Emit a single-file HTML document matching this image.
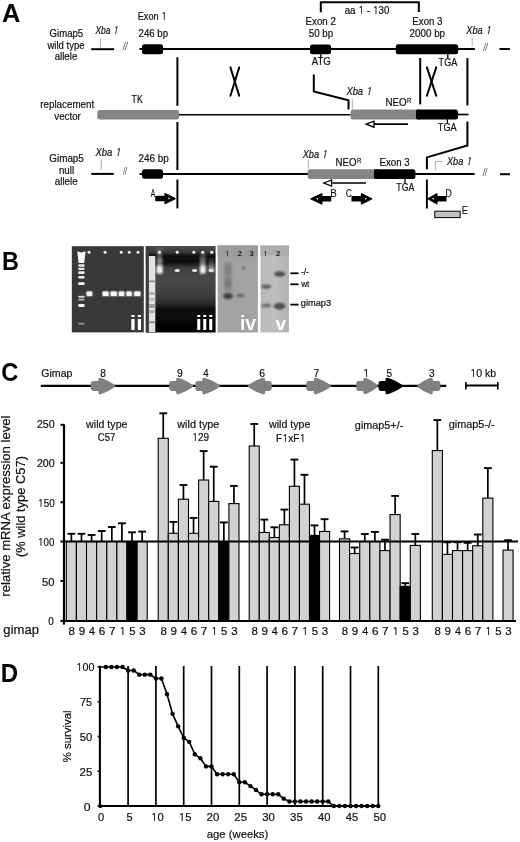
<!DOCTYPE html>
<html><head><meta charset="utf-8"><title>Gimap5 figure</title>
<style>html,body{margin:0;padding:0;background:#fff;overflow:hidden;} svg{display:block;}</style></head>
<body>
<svg width="520" height="842" viewBox="0 0 520 842" font-family="'Liberation Sans', Arial, Helvetica, sans-serif">
<defs><filter id="soft" x="0" y="0" width="100%" height="100%"><feGaussianBlur stdDeviation="0.45"/></filter></defs>
<rect x="0" y="0" width="520" height="842" fill="#fff"/>
<g filter="url(#soft)">
<rect x="0" y="0" width="520" height="842" fill="#fff"/>
<text x="2.07" y="21.60" font-size="25.36" textLength="18.32" lengthAdjust="spacingAndGlyphs" font-weight="bold" fill="#000">A</text>
<text x="49.62" y="37.10" font-size="10.60" textLength="33.58" lengthAdjust="spacingAndGlyphs" fill="#111" stroke="#111" stroke-width="0.2">Gimap5</text>
<text x="47.50" y="48.80" font-size="10.60" textLength="37.04" lengthAdjust="spacingAndGlyphs" fill="#111" stroke="#111" stroke-width="0.2">wild type</text>
<text x="54.66" y="60.40" font-size="10.60" textLength="22.67" lengthAdjust="spacingAndGlyphs" fill="#111" stroke="#111" stroke-width="0.2">allele</text>
<text x="95.43" y="33.70" font-size="10.60" textLength="22.53" lengthAdjust="spacingAndGlyphs" font-style="italic" fill="#111" stroke="#111" stroke-width="0.2">Xba <tspan font-family="NanumGothic, 'Liberation Sans', sans-serif">1</tspan></text>
<line x1="100.50" y1="38.50" x2="100.50" y2="48.20" stroke="#9a9a9a" stroke-width="0.8" stroke-linecap="butt"/>
<line x1="91.20" y1="49.20" x2="114.20" y2="49.20" stroke="#000" stroke-width="2" stroke-linecap="butt"/>
<text x="123.04" y="50.00" font-size="10.60" textLength="4.44" lengthAdjust="spacingAndGlyphs" font-style="italic" fill="#2a2a2a">//</text>
<line x1="139.50" y1="49.00" x2="474.90" y2="49.00" stroke="#000" stroke-width="2" stroke-linecap="butt"/>
<rect x="142.00" y="44.30" width="21.00" height="9.90" rx="2.5" fill="#000" stroke="none" stroke-width="0" />
<text x="137.76" y="20.40" font-size="10.60" textLength="28.94" lengthAdjust="spacingAndGlyphs" fill="#111" stroke="#111" stroke-width="0.2">Exon <tspan font-family="NanumGothic, 'Liberation Sans', sans-serif">1</tspan></text>
<text x="138.52" y="36.90" font-size="10.60" textLength="29.56" lengthAdjust="spacingAndGlyphs" fill="#111" stroke="#111" stroke-width="0.2">246 bp</text>
<rect x="310.00" y="44.60" width="21.00" height="9.60" rx="2.5" fill="#000" stroke="none" stroke-width="0" />
<text x="305.52" y="24.60" font-size="10.60" textLength="30.40" lengthAdjust="spacingAndGlyphs" fill="#111" stroke="#111" stroke-width="0.2">Exon 2</text>
<text x="308.81" y="36.90" font-size="10.60" textLength="24.40" lengthAdjust="spacingAndGlyphs" fill="#111" stroke="#111" stroke-width="0.2">50 bp</text>
<line x1="320.80" y1="54.00" x2="320.80" y2="58.50" stroke="#000" stroke-width="1.3" stroke-linecap="butt"/>
<text x="311.75" y="65.40" font-size="10.60" textLength="19.14" lengthAdjust="spacingAndGlyphs" fill="#111" stroke="#111" stroke-width="0.2">ATG</text>
<polyline points="320.80,12.30 320.80,2.20 418.80,2.20 418.80,12.00" stroke="#000" stroke-width="2" fill="none" stroke-linejoin="miter"/>
<text x="344.65" y="13.50" font-size="10.60" textLength="44.68" lengthAdjust="spacingAndGlyphs" fill="#111" stroke="#111" stroke-width="0.2">aa <tspan font-family="NanumGothic, 'Liberation Sans', sans-serif">1</tspan> - <tspan font-family="NanumGothic, 'Liberation Sans', sans-serif">1</tspan>30</text>
<rect x="395.80" y="44.20" width="62.40" height="10.00" rx="2.5" fill="#000" stroke="none" stroke-width="0" />
<text x="412.33" y="24.60" font-size="10.60" textLength="30.14" lengthAdjust="spacingAndGlyphs" fill="#111" stroke="#111" stroke-width="0.2">Exon 3</text>
<text x="409.51" y="37.00" font-size="10.60" textLength="35.58" lengthAdjust="spacingAndGlyphs" fill="#111" stroke="#111" stroke-width="0.2">2000 bp</text>
<line x1="447.80" y1="54.00" x2="447.80" y2="58.50" stroke="#000" stroke-width="1.3" stroke-linecap="butt"/>
<text x="438.62" y="65.60" font-size="10.60" textLength="18.59" lengthAdjust="spacingAndGlyphs" fill="#111" stroke="#111" stroke-width="0.2">TGA</text>
<line x1="472.20" y1="38.20" x2="472.20" y2="46.50" stroke="#9a9a9a" stroke-width="0.8" stroke-linecap="butt"/>
<text x="466.34" y="33.90" font-size="10.60" textLength="24.59" lengthAdjust="spacingAndGlyphs" font-style="italic" fill="#111" stroke="#111" stroke-width="0.2">Xba <tspan font-family="NanumGothic, 'Liberation Sans', sans-serif">1</tspan></text>
<text x="483.40" y="50.70" font-size="10.60" textLength="4.05" lengthAdjust="spacingAndGlyphs" font-style="italic" fill="#2a2a2a">//</text>
<line x1="499.50" y1="49.00" x2="509.90" y2="49.00" stroke="#000" stroke-width="2" stroke-linecap="butt"/>
<line x1="177.40" y1="57.30" x2="177.40" y2="105.80" stroke="#000" stroke-width="2" stroke-linecap="butt"/>
<line x1="177.40" y1="122.00" x2="177.40" y2="170.00" stroke="#000" stroke-width="2" stroke-linecap="butt"/>
<line x1="177.40" y1="179.50" x2="177.40" y2="208.40" stroke="#000" stroke-width="2" stroke-linecap="butt"/>
<line x1="420.20" y1="58.00" x2="420.20" y2="104.40" stroke="#000" stroke-width="2" stroke-linecap="butt"/>
<line x1="467.40" y1="58.10" x2="467.40" y2="105.40" stroke="#000" stroke-width="2" stroke-linecap="butt"/>
<polyline points="467.40,121.60 467.40,145.40 426.90,157.40 426.90,169.20" stroke="#000" stroke-width="2" fill="none" stroke-linejoin="miter"/>
<line x1="426.90" y1="179.50" x2="426.90" y2="208.50" stroke="#000" stroke-width="2" stroke-linecap="butt"/>
<line x1="230.40" y1="67.40" x2="239.20" y2="95.70" stroke="#000" stroke-width="2" stroke-linecap="round"/>
<line x1="239.20" y1="67.40" x2="230.40" y2="95.70" stroke="#000" stroke-width="2" stroke-linecap="round"/>
<line x1="426.90" y1="67.40" x2="436.25" y2="95.70" stroke="#000" stroke-width="2" stroke-linecap="round"/>
<line x1="436.25" y1="67.40" x2="426.90" y2="95.70" stroke="#000" stroke-width="2" stroke-linecap="round"/>
<text x="40.26" y="108.30" font-size="10.60" textLength="53.92" lengthAdjust="spacingAndGlyphs" fill="#111" stroke="#111" stroke-width="0.2">replacement</text>
<text x="54.25" y="119.50" font-size="10.60" textLength="26.63" lengthAdjust="spacingAndGlyphs" fill="#111" stroke="#111" stroke-width="0.2">vector</text>
<text x="131.62" y="102.70" font-size="10.60" textLength="11.19" lengthAdjust="spacingAndGlyphs" fill="#111" stroke="#111" stroke-width="0.2">TK</text>
<rect x="97.30" y="110.00" width="81.90" height="9.60" rx="2.5" fill="#858585" stroke="none" stroke-width="0" />
<line x1="179.00" y1="114.70" x2="350.50" y2="114.70" stroke="#000" stroke-width="1.6" stroke-linecap="butt"/>
<polyline points="313.80,74.60 313.80,91.50 348.50,100.30 348.50,109.50" stroke="#000" stroke-width="2" fill="none" stroke-linejoin="miter"/>
<line x1="352.30" y1="99.20" x2="352.30" y2="109.20" stroke="#9a9a9a" stroke-width="0.8" stroke-linecap="butt"/>
<text x="346.44" y="95.00" font-size="10.60" textLength="24.90" lengthAdjust="spacingAndGlyphs" font-style="italic" fill="#111" stroke="#111" stroke-width="0.2">Xba <tspan font-family="NanumGothic, 'Liberation Sans', sans-serif">1</tspan></text>
<rect x="350.50" y="109.60" width="66.50" height="9.90" rx="2.5" fill="#858585" stroke="none" stroke-width="0" />
<rect x="416.20" y="109.60" width="41.80" height="9.80" rx="2.5" fill="#000" stroke="none" stroke-width="0" />
<rect x="416.20" y="109.60" width="3.80" height="9.80" rx="0" fill="#000" stroke="none" stroke-width="0" />
<text x="385.42" y="106.40" font-size="10.60" textLength="21.25" lengthAdjust="spacingAndGlyphs" fill="#111" stroke="#111" stroke-width="0.2">NEO</text>
<text x="407.02" y="103.10" font-size="6.40" textLength="4.37" lengthAdjust="spacingAndGlyphs" fill="#111" stroke="#111" stroke-width="0.2">R</text>
<line x1="373.50" y1="124.20" x2="408.00" y2="124.20" stroke="#000" stroke-width="1.7" stroke-linecap="butt"/>
<polygon points="366.20,124.20 374.00,121.20 374.00,127.20" fill="#fff" stroke="#000" stroke-width="1.3" stroke-linejoin="miter"/>
<line x1="458.00" y1="114.50" x2="468.50" y2="114.50" stroke="#000" stroke-width="1.7" stroke-linecap="butt"/>
<line x1="447.40" y1="119.00" x2="447.40" y2="123.50" stroke="#000" stroke-width="1.3" stroke-linecap="butt"/>
<text x="437.82" y="131.20" font-size="10.60" textLength="18.89" lengthAdjust="spacingAndGlyphs" fill="#111" stroke="#111" stroke-width="0.2">TGA</text>
<text x="49.31" y="162.30" font-size="10.60" textLength="34.55" lengthAdjust="spacingAndGlyphs" fill="#111" stroke="#111" stroke-width="0.2">Gimap5</text>
<text x="58.92" y="173.90" font-size="10.60" textLength="15.18" lengthAdjust="spacingAndGlyphs" fill="#111" stroke="#111" stroke-width="0.2">null</text>
<text x="54.86" y="185.30" font-size="10.60" textLength="22.78" lengthAdjust="spacingAndGlyphs" fill="#111" stroke="#111" stroke-width="0.2">allele</text>
<text x="95.44" y="156.25" font-size="10.60" textLength="25.10" lengthAdjust="spacingAndGlyphs" font-style="italic" fill="#111" stroke="#111" stroke-width="0.2">Xba <tspan font-family="NanumGothic, 'Liberation Sans', sans-serif">1</tspan></text>
<line x1="101.25" y1="160.00" x2="101.25" y2="169.50" stroke="#9a9a9a" stroke-width="0.8" stroke-linecap="butt"/>
<line x1="91.25" y1="173.90" x2="113.75" y2="173.90" stroke="#000" stroke-width="2" stroke-linecap="butt"/>
<text x="123.15" y="175.00" font-size="10.60" textLength="3.49" lengthAdjust="spacingAndGlyphs" font-style="italic" fill="#2a2a2a">//</text>
<text x="138.56" y="162.00" font-size="10.60" textLength="30.28" lengthAdjust="spacingAndGlyphs" fill="#111" stroke="#111" stroke-width="0.2">246 bp</text>
<rect x="142.00" y="169.25" width="21.00" height="9.50" rx="2.5" fill="#000" stroke="none" stroke-width="0" />
<line x1="139.50" y1="174.00" x2="308.00" y2="174.00" stroke="#000" stroke-width="2" stroke-linecap="butt"/>
<line x1="308.20" y1="160.00" x2="308.20" y2="169.20" stroke="#9a9a9a" stroke-width="0.8" stroke-linecap="butt"/>
<text x="302.74" y="157.70" font-size="10.60" textLength="24.38" lengthAdjust="spacingAndGlyphs" font-style="italic" fill="#111" stroke="#111" stroke-width="0.2">Xba <tspan font-family="NanumGothic, 'Liberation Sans', sans-serif">1</tspan></text>
<rect x="307.70" y="169.20" width="67.30" height="9.70" rx="2.5" fill="#858585" stroke="none" stroke-width="0" />
<rect x="374.20" y="169.20" width="41.20" height="9.70" rx="2.5" fill="#000" stroke="none" stroke-width="0" />
<rect x="374.20" y="169.20" width="3.80" height="9.70" rx="0" fill="#000" stroke="none" stroke-width="0" />
<text x="335.62" y="165.90" font-size="10.60" textLength="21.03" lengthAdjust="spacingAndGlyphs" fill="#111" stroke="#111" stroke-width="0.2">NEO</text>
<text x="357.02" y="162.70" font-size="6.40" textLength="4.37" lengthAdjust="spacingAndGlyphs" fill="#111" stroke="#111" stroke-width="0.2">R</text>
<text x="379.53" y="165.80" font-size="10.60" textLength="30.14" lengthAdjust="spacingAndGlyphs" fill="#111" stroke="#111" stroke-width="0.2">Exon 3</text>
<line x1="405.00" y1="179.00" x2="405.00" y2="183.50" stroke="#000" stroke-width="1.3" stroke-linecap="butt"/>
<text x="396.33" y="191.20" font-size="10.60" textLength="17.98" lengthAdjust="spacingAndGlyphs" fill="#111" stroke="#111" stroke-width="0.2">TGA</text>
<line x1="415.00" y1="174.00" x2="474.60" y2="174.00" stroke="#000" stroke-width="2" stroke-linecap="butt"/>
<line x1="332.40" y1="183.00" x2="366.00" y2="183.00" stroke="#000" stroke-width="1.7" stroke-linecap="butt"/>
<polygon points="323.80,183.00 331.60,180.00 331.60,186.00" fill="#fff" stroke="#000" stroke-width="1.3" stroke-linejoin="miter"/>
<polyline points="435.40,170.30 435.40,161.50 443.00,161.50" stroke="#9a9a9a" stroke-width="0.8" fill="none" stroke-linejoin="miter"/>
<text x="447.04" y="164.60" font-size="10.60" textLength="24.28" lengthAdjust="spacingAndGlyphs" font-style="italic" fill="#111" stroke="#111" stroke-width="0.2">Xba <tspan font-family="NanumGothic, 'Liberation Sans', sans-serif">1</tspan></text>
<text x="482.98" y="175.80" font-size="10.60" textLength="3.81" lengthAdjust="spacingAndGlyphs" font-style="italic" fill="#2a2a2a">//</text>
<line x1="500.00" y1="174.20" x2="510.00" y2="174.20" stroke="#000" stroke-width="2" stroke-linecap="butt"/>
<polygon points="175.10,198.60 165.00,193.60 165.00,196.50 155.90,196.50 155.90,200.70 165.00,200.70 165.00,203.60" fill="#000" stroke="#000" stroke-width="1.3" stroke-linejoin="round"/>
<polygon points="170.53,198.60 168.53,197.60 168.53,199.60" fill="#fff" stroke="none" stroke-width="0" stroke-linejoin="round"/>
<text x="150.87" y="197.30" font-size="10.00" textLength="4.45" lengthAdjust="spacingAndGlyphs" fill="#111" stroke="#111" stroke-width="0.15">A</text>
<polygon points="311.00,198.80 321.80,193.80 321.80,196.70 330.60,196.70 330.60,200.90 321.80,200.90 321.80,203.80" fill="#000" stroke="#000" stroke-width="1.3" stroke-linejoin="round"/>
<polygon points="316.02,198.80 318.02,197.80 318.02,199.80" fill="#fff" stroke="none" stroke-width="0" stroke-linejoin="round"/>
<text x="330.32" y="197.20" font-size="10.00" textLength="6.48" lengthAdjust="spacingAndGlyphs" fill="#111" stroke="#111" stroke-width="0.15">B</text>
<polygon points="371.60,198.80 361.50,193.80 361.50,196.70 352.10,196.70 352.10,200.90 361.50,200.90 361.50,203.80" fill="#000" stroke="#000" stroke-width="1.3" stroke-linejoin="round"/>
<polygon points="367.04,198.80 365.04,197.80 365.04,199.80" fill="#fff" stroke="none" stroke-width="0" stroke-linejoin="round"/>
<text x="345.87" y="197.10" font-size="10.00" textLength="6.19" lengthAdjust="spacingAndGlyphs" fill="#111" stroke="#111" stroke-width="0.15">C</text>
<polygon points="427.90,198.80 436.90,193.80 436.90,196.70 445.90,196.70 445.90,200.90 436.90,200.90 436.90,203.80" fill="#000" stroke="#000" stroke-width="1.3" stroke-linejoin="round"/>
<polygon points="431.75,198.80 433.75,197.80 433.75,199.80" fill="#fff" stroke="none" stroke-width="0" stroke-linejoin="round"/>
<text x="445.50" y="196.90" font-size="10.00" textLength="6.31" lengthAdjust="spacingAndGlyphs" fill="#111" stroke="#111" stroke-width="0.15">D</text>
<rect x="434.80" y="211.20" width="25.40" height="6.40" rx="0" fill="#c2c2c2" stroke="#000" stroke-width="1" />
<text x="461.65" y="214.40" font-size="10.00" textLength="6.24" lengthAdjust="spacingAndGlyphs" fill="#111" stroke="#111" stroke-width="0.15">E</text>
<text x="1.88" y="270.40" font-size="25.94" textLength="16.93" lengthAdjust="spacingAndGlyphs" font-weight="bold" fill="#000">B</text>
<defs><filter id="b1" x="-50%" y="-50%" width="200%" height="200%"><feGaussianBlur stdDeviation="0.6"/></filter><filter id="b2" x="-50%" y="-50%" width="200%" height="200%"><feGaussianBlur stdDeviation="1.2"/></filter><filter id="b3" x="-50%" y="-50%" width="200%" height="200%"><feGaussianBlur stdDeviation="2.2"/></filter><linearGradient id="g3" x1="0" y1="0" x2="0" y2="1"><stop offset="0" stop-color="#404040"/><stop offset="0.06" stop-color="#1c1c1c"/><stop offset="0.2" stop-color="#101010"/><stop offset="0.32" stop-color="#3c3c3c"/><stop offset="0.55" stop-color="#3a3a3a"/><stop offset="0.7" stop-color="#282828"/><stop offset="0.76" stop-color="#080808"/><stop offset="1" stop-color="#050505"/></linearGradient><linearGradient id="g4" x1="0" y1="0" x2="0" y2="1"><stop offset="0" stop-color="#979797"/><stop offset="0.12" stop-color="#9c9c9c"/><stop offset="0.2" stop-color="#a3a3a3"/><stop offset="1" stop-color="#a2a2a2"/></linearGradient><linearGradient id="g5" x1="0" y1="0" x2="1" y2="0"><stop offset="0" stop-color="#bababa"/><stop offset="0.5" stop-color="#bfbfbf"/><stop offset="1" stop-color="#b2b2b2"/></linearGradient></defs>
<rect x="71.80" y="246.20" width="72.00" height="86.20" rx="0" fill="#383838" stroke="none" stroke-width="0" />
<g filter="url(#b1)" opacity="0.3">
<rect x="86.50" y="256.00" width="5.00" height="74.00" rx="0" fill="#3c3c3c" stroke="none" stroke-width="0" />
<rect x="94.50" y="256.00" width="5.00" height="74.00" rx="0" fill="#3c3c3c" stroke="none" stroke-width="0" />
<rect x="102.90" y="256.00" width="5.00" height="74.00" rx="0" fill="#3c3c3c" stroke="none" stroke-width="0" />
<rect x="111.00" y="256.00" width="5.00" height="74.00" rx="0" fill="#3c3c3c" stroke="none" stroke-width="0" />
<rect x="118.90" y="256.00" width="5.00" height="74.00" rx="0" fill="#3c3c3c" stroke="none" stroke-width="0" />
<rect x="126.80" y="256.00" width="5.00" height="74.00" rx="0" fill="#3c3c3c" stroke="none" stroke-width="0" />
<rect x="135.00" y="256.00" width="5.00" height="74.00" rx="0" fill="#3c3c3c" stroke="none" stroke-width="0" />
</g>
<g filter="url(#b1)">
<polygon points="77.20,251.20 81.20,252.50 85.60,251.20 84.20,263.00 78.60,263.00" fill="#f8f8f8" stroke="none" stroke-width="0" stroke-linejoin="round"/>
<rect x="78.20" y="264.20" width="6.40" height="2.60" rx="1" fill="#f4f4f4" stroke="none" stroke-width="0" opacity="0.95"/>
<rect x="78.20" y="267.70" width="6.40" height="2.20" rx="1" fill="#f4f4f4" stroke="none" stroke-width="0" opacity="0.9"/>
<rect x="78.20" y="271.30" width="6.40" height="2.60" rx="1" fill="#f4f4f4" stroke="none" stroke-width="0" opacity="0.95"/>
<rect x="78.20" y="276.10" width="6.40" height="2.40" rx="1" fill="#f4f4f4" stroke="none" stroke-width="0" opacity="0.95"/>
<rect x="78.20" y="282.20" width="6.40" height="2.80" rx="1" fill="#f4f4f4" stroke="none" stroke-width="0" opacity="1"/>
<rect x="78.20" y="295.80" width="6.40" height="2.00" rx="1" fill="#f4f4f4" stroke="none" stroke-width="0" opacity="0.85"/>
<rect x="78.20" y="298.70" width="6.40" height="1.80" rx="1" fill="#f4f4f4" stroke="none" stroke-width="0" opacity="0.7"/>
<rect x="78.20" y="303.90" width="6.40" height="3.00" rx="1" fill="#f4f4f4" stroke="none" stroke-width="0" opacity="1"/>
<rect x="78.20" y="322.70" width="6.40" height="2.00" rx="1" fill="#f4f4f4" stroke="none" stroke-width="0" opacity="0.45"/>
<circle cx="89" cy="252.2" r="1.5" fill="#f4f4f4"/>
<circle cx="105.1" cy="252.2" r="1.5" fill="#f4f4f4"/>
<circle cx="121.2" cy="252.2" r="1.5" fill="#f4f4f4"/>
<circle cx="129.2" cy="252.2" r="1.5" fill="#f4f4f4"/>
<circle cx="138" cy="252.2" r="1.5" fill="#f4f4f4"/>
</g>
<g filter="url(#b1)">
<rect x="85.40" y="290.40" width="8.00" height="6.80" rx="2" fill="#ffffff" stroke="none" stroke-width="0" opacity="0.25"/>
<rect x="86.60" y="291.60" width="5.60" height="4.40" rx="1.2" fill="#fafafa" stroke="none" stroke-width="0" opacity="0.95"/>
<rect x="101.40" y="290.40" width="8.40" height="6.80" rx="2" fill="#ffffff" stroke="none" stroke-width="0" opacity="0.25"/>
<rect x="102.60" y="291.60" width="6.00" height="4.40" rx="1.2" fill="#fafafa" stroke="none" stroke-width="0" opacity="1"/>
<rect x="109.40" y="290.40" width="8.60" height="6.80" rx="2" fill="#ffffff" stroke="none" stroke-width="0" opacity="0.25"/>
<rect x="110.60" y="291.60" width="6.20" height="4.40" rx="1.2" fill="#fafafa" stroke="none" stroke-width="0" opacity="1"/>
<rect x="117.60" y="290.40" width="7.90" height="6.80" rx="2" fill="#ffffff" stroke="none" stroke-width="0" opacity="0.25"/>
<rect x="118.80" y="291.60" width="5.50" height="4.40" rx="1.2" fill="#fafafa" stroke="none" stroke-width="0" opacity="1"/>
<rect x="125.20" y="290.40" width="7.80" height="6.80" rx="2" fill="#ffffff" stroke="none" stroke-width="0" opacity="0.25"/>
<rect x="126.40" y="291.60" width="5.40" height="4.40" rx="1.2" fill="#fafafa" stroke="none" stroke-width="0" opacity="1"/>
<rect x="133.00" y="290.40" width="8.60" height="6.80" rx="2" fill="#ffffff" stroke="none" stroke-width="0" opacity="0.25"/>
<rect x="134.20" y="291.60" width="6.20" height="4.40" rx="1.2" fill="#fafafa" stroke="none" stroke-width="0" opacity="1"/>
</g>
<text x="129.78" y="330.30" font-size="19.86" textLength="12.85" lengthAdjust="spacingAndGlyphs" font-weight="bold" fill="#fff">ii</text>
<defs><linearGradient id="g3b" x1="0" y1="0" x2="0" y2="1"><stop offset="0" stop-color="#4c4c4c"/><stop offset="0.07" stop-color="#3a3a3a"/><stop offset="0.116" stop-color="#0c0c0c"/><stop offset="0.197" stop-color="#121212"/><stop offset="0.254" stop-color="#404040"/><stop offset="0.393" stop-color="#484848"/><stop offset="0.566" stop-color="#3e3e3e"/><stop offset="0.67" stop-color="#2a2a2a"/><stop offset="0.728" stop-color="#0a0a0a"/><stop offset="1" stop-color="#040404"/></linearGradient></defs>
<rect x="145.80" y="246.00" width="69.80" height="86.50" rx="0" fill="url(#g3b)" stroke="none" stroke-width="0" />
<rect x="145.80" y="246.00" width="3.20" height="86.50" rx="0" fill="#3e3e3e" stroke="none" stroke-width="0" />
<g filter="url(#b1)">
<rect x="148.90" y="256.00" width="6.40" height="76.00" rx="0" fill="#e2e2e2" stroke="none" stroke-width="0" />
<rect x="148.90" y="280.50" width="6.40" height="1.60" rx="0" fill="#8a8a8a" stroke="none" stroke-width="0" />
<rect x="148.90" y="292.00" width="6.40" height="3.00" rx="0" fill="#b4b4b4" stroke="none" stroke-width="0" />
<rect x="148.90" y="298.00" width="6.40" height="3.00" rx="0" fill="#c0c0c0" stroke="none" stroke-width="0" />
<rect x="148.90" y="304.00" width="6.40" height="4.00" rx="0" fill="#a0a0a0" stroke="none" stroke-width="0" />
<rect x="148.90" y="310.00" width="6.40" height="3.00" rx="0" fill="#b0b0b0" stroke="none" stroke-width="0" />
<rect x="148.90" y="321.50" width="6.40" height="1.60" rx="0" fill="#7a7a7a" stroke="none" stroke-width="0" />
</g>
<defs><linearGradient id="sm" x1="0" y1="0" x2="0" y2="1"><stop offset="0" stop-color="#fff" stop-opacity="0.15"/><stop offset="0.6" stop-color="#fff" stop-opacity="0.55"/><stop offset="0.85" stop-color="#fff" stop-opacity="0.9"/><stop offset="1" stop-color="#fff" stop-opacity="0.6"/></linearGradient></defs>
<g filter="url(#b2)">
<rect x="156.80" y="247.00" width="5.40" height="15.00" rx="0" fill="#5a5a5a" stroke="none" stroke-width="0" />
<rect x="156.60" y="258.00" width="6.00" height="16.00" rx="0" fill="url(#sm)" stroke="none" stroke-width="0" />
<ellipse cx="159.6" cy="269" rx="3.2" ry="3.8" fill="#f4f4f4" opacity="0.85"/>
<ellipse cx="202.9" cy="269" rx="3" ry="3.5" fill="#f0f0f0" opacity="0.7"/>
<rect x="200.00" y="253.00" width="5.60" height="21.00" rx="0" fill="url(#sm)" stroke="none" stroke-width="0" />
<rect x="208.60" y="258.00" width="5.60" height="14.00" rx="0" fill="url(#sm)" stroke="none" stroke-width="0" opacity="0.6"/>
</g>
<g filter="url(#b1)">
<circle cx="159.4" cy="252.2" r="1.5" fill="#ffffff"/>
<circle cx="177.2" cy="252.2" r="1.5" fill="#ffffff"/>
<circle cx="193.8" cy="252.2" r="1.5" fill="#ffffff"/>
<circle cx="202.7" cy="252.2" r="1.5" fill="#ffffff"/>
<circle cx="211.7" cy="252.2" r="1.5" fill="#ffffff"/>
<ellipse cx="177.2" cy="270.6" rx="2.7" ry="1.5" fill="#e4e4e4"/>
<ellipse cx="194.6" cy="270.6" rx="2.7" ry="1.5" fill="#e4e4e4"/>
<ellipse cx="211.2" cy="270.6" rx="2.7" ry="1.5" fill="#e4e4e4"/>
</g>
<text x="195.69" y="330.30" font-size="20.28" textLength="18.00" lengthAdjust="spacingAndGlyphs" font-weight="bold" fill="#fff">iii</text>
<rect x="217.70" y="245.50" width="40.20" height="87.00" rx="0" fill="url(#g4)" stroke="none" stroke-width="0" />
<g filter="url(#b1)">
<rect x="217.70" y="245.50" width="40.20" height="10.50" rx="0" fill="#9c9c9c" stroke="none" stroke-width="0" />
</g>
<g filter="url(#b2)">
<rect x="224.20" y="262.00" width="7.60" height="29.00" rx="0" fill="#848484" stroke="none" stroke-width="0" opacity="0.85"/>
<ellipse cx="228" cy="269" rx="3.5" ry="4" fill="#7a7a7a" opacity="0.6"/>
<ellipse cx="228" cy="283" rx="3.8" ry="4" fill="#707070" opacity="0.6"/>
<ellipse cx="228.1" cy="296" rx="5.0" ry="3.2" fill="#434343"/>
<ellipse cx="240.4" cy="295.5" rx="4.2" ry="1.7" fill="#656565"/>
<circle cx="243.5" cy="268" r="1.8" fill="#6a6a6a"/>
</g>
<text x="227.50" y="255.70" font-size="6.52" text-anchor="middle" font-family="NanumGothic, 'Liberation Sans', sans-serif" fill="#222" font-weight="bold">1</text>
<text x="237.42" y="255.70" font-size="6.43" textLength="4.40" lengthAdjust="spacingAndGlyphs" font-weight="bold" fill="#222">2</text>
<text x="249.61" y="255.70" font-size="6.43" textLength="4.27" lengthAdjust="spacingAndGlyphs" font-weight="bold" fill="#222">3</text>
<text x="239.94" y="330.10" font-size="19.59" textLength="16.24" lengthAdjust="spacingAndGlyphs" font-weight="bold" fill="#fff">iv</text>
<rect x="260.50" y="245.50" width="28.40" height="87.00" rx="0" fill="url(#g5)" stroke="none" stroke-width="0" />
<g filter="url(#b1)">
<rect x="260.50" y="245.50" width="28.40" height="10.00" rx="0" fill="#adadad" stroke="none" stroke-width="0" />
</g>
<g filter="url(#b2)">
<ellipse cx="279.8" cy="274" rx="5.6" ry="2.8" fill="#4e4e4e"/>
<ellipse cx="266.2" cy="286.6" rx="5" ry="2.1" fill="#5e5e5e"/>
<ellipse cx="266.2" cy="305.4" rx="4.8" ry="2.0" fill="#6e6e6e"/>
<ellipse cx="279.5" cy="306.2" rx="5.8" ry="3.4" fill="#4e4e4e"/>
</g>
<text x="265.20" y="255.70" font-size="6.52" text-anchor="middle" font-family="NanumGothic, 'Liberation Sans', sans-serif" fill="#222" font-weight="bold">1</text>
<text x="276.12" y="255.70" font-size="6.43" textLength="4.40" lengthAdjust="spacingAndGlyphs" font-weight="bold" fill="#222">2</text>
<text x="275.60" y="330.10" font-size="18.49" textLength="10.61" lengthAdjust="spacingAndGlyphs" font-weight="bold" fill="#fff">v</text>
<line x1="290.30" y1="273.30" x2="298.50" y2="273.30" stroke="#000" stroke-width="1.8" stroke-linecap="butt"/>
<line x1="290.30" y1="284.30" x2="298.50" y2="284.30" stroke="#000" stroke-width="1.8" stroke-linecap="butt"/>
<line x1="290.30" y1="304.60" x2="298.50" y2="304.60" stroke="#000" stroke-width="1.8" stroke-linecap="butt"/>
<text x="300.92" y="274.70" font-size="9.20" textLength="8.06" lengthAdjust="spacingAndGlyphs" fill="#111" stroke="#111" stroke-width="0.2">-/-</text>
<text x="301.20" y="286.50" font-size="9.20" textLength="8.18" lengthAdjust="spacingAndGlyphs" fill="#111" stroke="#111" stroke-width="0.2">wt</text>
<text x="300.83" y="306.40" font-size="9.20" textLength="30.28" lengthAdjust="spacingAndGlyphs" fill="#111" stroke="#111" stroke-width="0.2">gimap3</text>
<text x="1.25" y="381.00" font-size="25.86" textLength="17.09" lengthAdjust="spacingAndGlyphs" font-weight="bold" fill="#000">C</text>
<text x="41.27" y="376.50" font-size="11.00" textLength="31.16" lengthAdjust="spacingAndGlyphs" fill="#111" stroke="#111" stroke-width="0.2">Gimap</text>
<line x1="40.80" y1="385.80" x2="446.20" y2="385.80" stroke="#000" stroke-width="2.2" stroke-linecap="butt"/>
<path d="M93.20,381.00 L97.50,381.00 Q98.50,381.00 98.50,380.00 L98.50,379.00 Q98.50,377.00 101.33,378.00 L103.22,378.67 Q107.94,380.34 112.07,383.17 L114.39,384.76 Q116.20,386.00 114.39,387.24 L112.07,388.83 Q107.94,391.66 103.22,393.33 L101.33,394.00 Q98.50,395.00 98.50,393.00 L98.50,392.00 Q98.50,391.00 97.50,391.00 L93.20,391.00 Q90.80,391.00 90.80,388.60 L90.80,383.40 Q90.80,381.00 93.20,381.00 Z" fill="#808080"/>
<path d="M171.60,381.00 L175.20,381.00 Q176.20,381.00 176.20,380.00 L176.20,379.00 Q176.20,377.00 179.03,377.98 L181.01,378.67 Q185.83,380.34 190.06,383.17 L192.47,384.78 Q194.30,386.00 192.47,387.22 L190.06,388.83 Q185.83,391.66 181.01,393.33 L179.03,394.02 Q176.20,395.00 176.20,393.00 L176.20,392.00 Q176.20,391.00 175.20,391.00 L171.60,391.00 Q169.20,391.00 169.20,388.60 L169.20,383.40 Q169.20,381.00 171.60,381.00 Z" fill="#808080"/>
<path d="M197.70,381.00 L201.40,381.00 Q202.40,381.00 202.40,380.00 L202.40,379.00 Q202.40,377.00 205.25,377.95 L207.38,378.66 Q212.36,380.33 216.78,383.16 L219.35,384.81 Q221.20,386.00 219.35,387.19 L216.78,388.84 Q212.36,391.67 207.38,393.34 L205.25,394.05 Q202.40,395.00 202.40,393.00 L202.40,392.00 Q202.40,391.00 201.40,391.00 L197.70,391.00 Q195.30,391.00 195.30,388.60 L195.30,383.40 Q195.30,381.00 197.70,381.00 Z" fill="#808080"/>
<path d="M269.30,381.00 L266.00,381.00 Q265.00,381.00 265.00,380.00 L265.00,379.00 Q265.00,377.00 262.16,377.97 L260.14,378.67 Q255.28,380.33 250.99,383.17 L248.54,384.79 Q246.70,386.00 248.54,387.21 L250.99,388.83 Q255.28,391.67 260.14,393.33 L262.16,394.03 Q265.00,395.00 265.00,393.00 L265.00,392.00 Q265.00,391.00 266.00,391.00 L269.30,391.00 Q271.70,391.00 271.70,388.60 L271.70,383.40 Q271.70,381.00 269.30,381.00 Z" fill="#808080"/>
<path d="M308.70,381.00 L313.00,381.00 Q314.00,381.00 314.00,380.00 L314.00,379.00 Q314.00,377.00 316.83,377.99 L318.79,378.67 Q323.58,380.34 327.79,383.17 L330.17,384.77 Q332.00,386.00 330.17,387.23 L327.79,388.83 Q323.58,391.66 318.79,393.33 L316.83,394.01 Q314.00,395.00 314.00,393.00 L314.00,392.00 Q314.00,391.00 313.00,391.00 L308.70,391.00 Q306.30,391.00 306.30,388.60 L306.30,383.40 Q306.30,381.00 308.70,381.00 Z" fill="#808080"/>
<path d="M358.60,381.00 L362.50,381.00 Q363.50,381.00 363.50,380.00 L363.50,379.00 Q363.50,377.00 366.28,378.13 L367.65,378.69 Q371.81,380.38 375.30,383.19 L377.09,384.62 Q378.80,386.00 377.09,387.38 L375.30,388.81 Q371.81,391.62 367.65,393.31 L366.28,393.87 Q363.50,395.00 363.50,393.00 L363.50,392.00 Q363.50,391.00 362.50,391.00 L358.60,391.00 Q356.20,391.00 356.20,388.60 L356.20,383.40 Q356.20,381.00 358.60,381.00 Z" fill="#808080"/>
<path d="M380.90,381.00 L384.60,381.00 Q385.60,381.00 385.60,380.00 L385.60,379.00 Q385.60,377.00 388.44,377.98 L390.44,378.67 Q395.28,380.33 399.54,383.17 L401.97,384.78 Q403.80,386.00 401.97,387.22 L399.54,388.83 Q395.28,391.67 390.44,393.33 L388.44,394.02 Q385.60,395.00 385.60,393.00 L385.60,392.00 Q385.60,391.00 384.60,391.00 L380.90,391.00 Q378.50,391.00 378.50,388.60 L378.50,383.40 Q378.50,381.00 380.90,381.00 Z" fill="#000"/>
<path d="M438.00,381.00 L433.70,381.00 Q432.70,381.00 432.70,380.00 L432.70,379.00 Q432.70,377.00 429.90,378.07 L428.29,378.68 Q423.87,380.36 420.09,383.18 L418.06,384.69 Q416.30,386.00 418.06,387.31 L420.09,388.82 Q423.87,391.64 428.29,393.32 L429.90,393.93 Q432.70,395.00 432.70,393.00 L432.70,392.00 Q432.70,391.00 433.70,391.00 L438.00,391.00 Q440.40,391.00 440.40,388.60 L440.40,383.40 Q440.40,381.00 438.00,381.00 Z" fill="#808080"/>
<text x="100.24" y="376.50" font-size="11.00" textLength="5.68" lengthAdjust="spacingAndGlyphs" fill="#111" stroke="#111" stroke-width="0.2">8</text>
<text x="177.04" y="376.50" font-size="11.00" textLength="5.74" lengthAdjust="spacingAndGlyphs" fill="#111" stroke="#111" stroke-width="0.2">9</text>
<text x="203.36" y="376.50" font-size="11.00" textLength="5.34" lengthAdjust="spacingAndGlyphs" fill="#111" stroke="#111" stroke-width="0.2">4</text>
<text x="259.18" y="376.50" font-size="11.00" textLength="5.80" lengthAdjust="spacingAndGlyphs" fill="#111" stroke="#111" stroke-width="0.2">6</text>
<text x="313.57" y="376.50" font-size="11.00" textLength="5.87" lengthAdjust="spacingAndGlyphs" fill="#111" stroke="#111" stroke-width="0.2">7</text>
<text x="366.20" y="376.50" font-size="11.00" text-anchor="middle" font-family="NanumGothic, 'Liberation Sans', sans-serif" fill="#111" stroke="#111" stroke-width="0.2">1</text>
<text x="386.60" y="376.50" font-size="11.00" textLength="5.62" lengthAdjust="spacingAndGlyphs" fill="#111" stroke="#111" stroke-width="0.2">5</text>
<text x="428.89" y="376.50" font-size="11.00" textLength="5.68" lengthAdjust="spacingAndGlyphs" fill="#111" stroke="#111" stroke-width="0.2">3</text>
<line x1="465.20" y1="385.40" x2="498.50" y2="385.40" stroke="#000" stroke-width="2" stroke-linecap="butt"/>
<line x1="465.90" y1="382.00" x2="465.90" y2="389.60" stroke="#000" stroke-width="1.6" stroke-linecap="butt"/>
<line x1="497.80" y1="382.00" x2="497.80" y2="389.60" stroke="#000" stroke-width="1.6" stroke-linecap="butt"/>
<text x="469.90" y="376.70" font-size="11.00" textLength="26.25" lengthAdjust="spacingAndGlyphs" fill="#111" stroke="#111" stroke-width="0.2"><tspan font-family="NanumGothic, 'Liberation Sans', sans-serif">1</tspan>0 kb</text>
<text transform="translate(10.00,596.65) rotate(-90)" x="0" y="0" font-size="12.55" textLength="181.06" lengthAdjust="spacingAndGlyphs" fill="#111" stroke="#111" stroke-width="0.2">relative mRNA expression level</text>
<text transform="translate(24.90,557.07) rotate(-90)" x="0" y="0" font-size="12.14" textLength="101.06" lengthAdjust="spacingAndGlyphs" fill="#111" stroke="#111" stroke-width="0.2">(% wild type C57)</text>
<text x="68.54" y="635.30" font-size="10.80" textLength="6.39" lengthAdjust="spacingAndGlyphs" fill="#111" stroke="#111" stroke-width="0.2">8</text>
<rect x="66.30" y="541.50" width="10.11" height="79.30" rx="0" fill="#d2d2d2" stroke="#000" stroke-width="1.1" />
<line x1="71.36" y1="533.80" x2="71.36" y2="541.50" stroke="#000" stroke-width="1.7" stroke-linecap="butt"/>
<line x1="67.46" y1="533.80" x2="75.26" y2="533.80" stroke="#000" stroke-width="1.9" stroke-linecap="butt"/>
<text x="78.65" y="635.30" font-size="10.80" textLength="6.46" lengthAdjust="spacingAndGlyphs" fill="#111" stroke="#111" stroke-width="0.2">9</text>
<rect x="76.41" y="541.50" width="10.11" height="79.30" rx="0" fill="#d2d2d2" stroke="#000" stroke-width="1.1" />
<line x1="81.47" y1="533.80" x2="81.47" y2="541.50" stroke="#000" stroke-width="1.7" stroke-linecap="butt"/>
<line x1="77.57" y1="533.80" x2="85.37" y2="533.80" stroke="#000" stroke-width="1.9" stroke-linecap="butt"/>
<text x="89.01" y="635.30" font-size="10.80" textLength="6.01" lengthAdjust="spacingAndGlyphs" fill="#111" stroke="#111" stroke-width="0.2">4</text>
<rect x="86.52" y="541.50" width="10.11" height="79.30" rx="0" fill="#d2d2d2" stroke="#000" stroke-width="1.1" />
<line x1="91.58" y1="535.00" x2="91.58" y2="541.50" stroke="#000" stroke-width="1.7" stroke-linecap="butt"/>
<line x1="87.68" y1="535.00" x2="95.48" y2="535.00" stroke="#000" stroke-width="1.9" stroke-linecap="butt"/>
<text x="98.81" y="635.30" font-size="10.80" textLength="6.53" lengthAdjust="spacingAndGlyphs" fill="#111" stroke="#111" stroke-width="0.2">6</text>
<rect x="96.64" y="541.50" width="10.11" height="79.30" rx="0" fill="#d2d2d2" stroke="#000" stroke-width="1.1" />
<line x1="101.69" y1="531.00" x2="101.69" y2="541.50" stroke="#000" stroke-width="1.7" stroke-linecap="butt"/>
<line x1="97.79" y1="531.00" x2="105.59" y2="531.00" stroke="#000" stroke-width="1.9" stroke-linecap="butt"/>
<text x="108.91" y="635.30" font-size="10.80" textLength="6.60" lengthAdjust="spacingAndGlyphs" fill="#111" stroke="#111" stroke-width="0.2">7</text>
<rect x="106.75" y="541.50" width="10.11" height="79.30" rx="0" fill="#d2d2d2" stroke="#000" stroke-width="1.1" />
<line x1="111.81" y1="527.00" x2="111.81" y2="541.50" stroke="#000" stroke-width="1.7" stroke-linecap="butt"/>
<line x1="107.91" y1="527.00" x2="115.71" y2="527.00" stroke="#000" stroke-width="1.9" stroke-linecap="butt"/>
<text x="122.42" y="635.30" font-size="10.80" text-anchor="middle" font-family="NanumGothic, 'Liberation Sans', sans-serif" fill="#111" stroke="#111" stroke-width="0.2">1</text>
<rect x="116.86" y="541.50" width="10.11" height="79.30" rx="0" fill="#d2d2d2" stroke="#000" stroke-width="1.1" />
<line x1="121.92" y1="523.30" x2="121.92" y2="541.50" stroke="#000" stroke-width="1.7" stroke-linecap="butt"/>
<line x1="118.02" y1="523.30" x2="125.82" y2="523.30" stroke="#000" stroke-width="1.9" stroke-linecap="butt"/>
<text x="129.28" y="635.30" font-size="10.80" textLength="6.32" lengthAdjust="spacingAndGlyphs" fill="#111" stroke="#111" stroke-width="0.2">5</text>
<rect x="126.97" y="541.50" width="10.11" height="79.30" rx="0" fill="#000" stroke="#000" stroke-width="1.1" />
<line x1="132.03" y1="532.30" x2="132.03" y2="541.50" stroke="#000" stroke-width="1.7" stroke-linecap="butt"/>
<line x1="128.13" y1="532.30" x2="135.93" y2="532.30" stroke="#000" stroke-width="1.9" stroke-linecap="butt"/>
<text x="139.38" y="635.30" font-size="10.80" textLength="6.39" lengthAdjust="spacingAndGlyphs" fill="#111" stroke="#111" stroke-width="0.2">3</text>
<rect x="137.09" y="541.50" width="10.11" height="79.30" rx="0" fill="#d2d2d2" stroke="#000" stroke-width="1.1" />
<line x1="142.14" y1="531.60" x2="142.14" y2="541.50" stroke="#000" stroke-width="1.7" stroke-linecap="butt"/>
<line x1="138.24" y1="531.60" x2="146.04" y2="531.60" stroke="#000" stroke-width="1.9" stroke-linecap="butt"/>
<text x="160.43" y="635.30" font-size="10.80" textLength="6.39" lengthAdjust="spacingAndGlyphs" fill="#111" stroke="#111" stroke-width="0.2">8</text>
<rect x="158.20" y="438.30" width="10.10" height="182.50" rx="0" fill="#d2d2d2" stroke="#000" stroke-width="1.1" />
<line x1="163.25" y1="413.30" x2="163.25" y2="438.30" stroke="#000" stroke-width="1.7" stroke-linecap="butt"/>
<line x1="159.35" y1="413.30" x2="167.15" y2="413.30" stroke="#000" stroke-width="1.9" stroke-linecap="butt"/>
<text x="170.53" y="635.30" font-size="10.80" textLength="6.46" lengthAdjust="spacingAndGlyphs" fill="#111" stroke="#111" stroke-width="0.2">9</text>
<rect x="168.30" y="533.30" width="10.10" height="87.50" rx="0" fill="#d2d2d2" stroke="#000" stroke-width="1.1" />
<line x1="173.35" y1="521.90" x2="173.35" y2="533.30" stroke="#000" stroke-width="1.7" stroke-linecap="butt"/>
<line x1="169.45" y1="521.90" x2="177.25" y2="521.90" stroke="#000" stroke-width="1.9" stroke-linecap="butt"/>
<text x="180.88" y="635.30" font-size="10.80" textLength="6.01" lengthAdjust="spacingAndGlyphs" fill="#111" stroke="#111" stroke-width="0.2">4</text>
<rect x="178.40" y="499.20" width="10.10" height="121.60" rx="0" fill="#d2d2d2" stroke="#000" stroke-width="1.1" />
<line x1="183.45" y1="485.00" x2="183.45" y2="499.20" stroke="#000" stroke-width="1.7" stroke-linecap="butt"/>
<line x1="179.55" y1="485.00" x2="187.35" y2="485.00" stroke="#000" stroke-width="1.9" stroke-linecap="butt"/>
<text x="190.66" y="635.30" font-size="10.80" textLength="6.53" lengthAdjust="spacingAndGlyphs" fill="#111" stroke="#111" stroke-width="0.2">6</text>
<rect x="188.50" y="533.30" width="10.10" height="87.50" rx="0" fill="#d2d2d2" stroke="#000" stroke-width="1.1" />
<line x1="193.55" y1="517.90" x2="193.55" y2="533.30" stroke="#000" stroke-width="1.7" stroke-linecap="butt"/>
<line x1="189.65" y1="517.90" x2="197.45" y2="517.90" stroke="#000" stroke-width="1.9" stroke-linecap="butt"/>
<text x="200.76" y="635.30" font-size="10.80" textLength="6.60" lengthAdjust="spacingAndGlyphs" fill="#111" stroke="#111" stroke-width="0.2">7</text>
<rect x="198.60" y="480.00" width="10.10" height="140.80" rx="0" fill="#d2d2d2" stroke="#000" stroke-width="1.1" />
<line x1="203.65" y1="451.10" x2="203.65" y2="480.00" stroke="#000" stroke-width="1.7" stroke-linecap="butt"/>
<line x1="199.75" y1="451.10" x2="207.55" y2="451.10" stroke="#000" stroke-width="1.9" stroke-linecap="butt"/>
<text x="214.25" y="635.30" font-size="10.80" text-anchor="middle" font-family="NanumGothic, 'Liberation Sans', sans-serif" fill="#111" stroke="#111" stroke-width="0.2">1</text>
<rect x="208.70" y="501.40" width="10.10" height="119.40" rx="0" fill="#d2d2d2" stroke="#000" stroke-width="1.1" />
<line x1="213.75" y1="466.70" x2="213.75" y2="501.40" stroke="#000" stroke-width="1.7" stroke-linecap="butt"/>
<line x1="209.85" y1="466.70" x2="217.65" y2="466.70" stroke="#000" stroke-width="1.9" stroke-linecap="butt"/>
<text x="221.10" y="635.30" font-size="10.80" textLength="6.32" lengthAdjust="spacingAndGlyphs" fill="#111" stroke="#111" stroke-width="0.2">5</text>
<rect x="218.80" y="541.50" width="10.10" height="79.30" rx="0" fill="#000" stroke="#000" stroke-width="1.1" />
<line x1="223.85" y1="522.40" x2="223.85" y2="541.50" stroke="#000" stroke-width="1.7" stroke-linecap="butt"/>
<line x1="219.95" y1="522.40" x2="227.75" y2="522.40" stroke="#000" stroke-width="1.9" stroke-linecap="butt"/>
<text x="231.19" y="635.30" font-size="10.80" textLength="6.39" lengthAdjust="spacingAndGlyphs" fill="#111" stroke="#111" stroke-width="0.2">3</text>
<rect x="228.90" y="503.60" width="10.10" height="117.20" rx="0" fill="#d2d2d2" stroke="#000" stroke-width="1.1" />
<line x1="233.95" y1="485.90" x2="233.95" y2="503.60" stroke="#000" stroke-width="1.7" stroke-linecap="butt"/>
<line x1="230.05" y1="485.90" x2="237.85" y2="485.90" stroke="#000" stroke-width="1.9" stroke-linecap="butt"/>
<text x="251.41" y="635.30" font-size="10.80" textLength="6.39" lengthAdjust="spacingAndGlyphs" fill="#111" stroke="#111" stroke-width="0.2">8</text>
<rect x="249.20" y="446.00" width="10.05" height="174.80" rx="0" fill="#d2d2d2" stroke="#000" stroke-width="1.1" />
<line x1="254.22" y1="424.00" x2="254.22" y2="446.00" stroke="#000" stroke-width="1.7" stroke-linecap="butt"/>
<line x1="250.32" y1="424.00" x2="258.12" y2="424.00" stroke="#000" stroke-width="1.9" stroke-linecap="butt"/>
<text x="261.45" y="635.30" font-size="10.80" textLength="6.46" lengthAdjust="spacingAndGlyphs" fill="#111" stroke="#111" stroke-width="0.2">9</text>
<rect x="259.25" y="532.50" width="10.05" height="88.30" rx="0" fill="#d2d2d2" stroke="#000" stroke-width="1.1" />
<line x1="264.27" y1="519.60" x2="264.27" y2="532.50" stroke="#000" stroke-width="1.7" stroke-linecap="butt"/>
<line x1="260.38" y1="519.60" x2="268.17" y2="519.60" stroke="#000" stroke-width="1.9" stroke-linecap="butt"/>
<text x="271.76" y="635.30" font-size="10.80" textLength="6.01" lengthAdjust="spacingAndGlyphs" fill="#111" stroke="#111" stroke-width="0.2">4</text>
<rect x="269.30" y="537.50" width="10.05" height="83.30" rx="0" fill="#d2d2d2" stroke="#000" stroke-width="1.1" />
<line x1="274.33" y1="527.30" x2="274.33" y2="537.50" stroke="#000" stroke-width="1.7" stroke-linecap="butt"/>
<line x1="270.43" y1="527.30" x2="278.23" y2="527.30" stroke="#000" stroke-width="1.9" stroke-linecap="butt"/>
<text x="281.49" y="635.30" font-size="10.80" textLength="6.53" lengthAdjust="spacingAndGlyphs" fill="#111" stroke="#111" stroke-width="0.2">6</text>
<rect x="279.35" y="524.80" width="10.05" height="96.00" rx="0" fill="#d2d2d2" stroke="#000" stroke-width="1.1" />
<line x1="284.38" y1="509.60" x2="284.38" y2="524.80" stroke="#000" stroke-width="1.7" stroke-linecap="butt"/>
<line x1="280.48" y1="509.60" x2="288.27" y2="509.60" stroke="#000" stroke-width="1.9" stroke-linecap="butt"/>
<text x="291.53" y="635.30" font-size="10.80" textLength="6.60" lengthAdjust="spacingAndGlyphs" fill="#111" stroke="#111" stroke-width="0.2">7</text>
<rect x="289.40" y="486.30" width="10.05" height="134.50" rx="0" fill="#d2d2d2" stroke="#000" stroke-width="1.1" />
<line x1="294.42" y1="459.60" x2="294.42" y2="486.30" stroke="#000" stroke-width="1.7" stroke-linecap="butt"/>
<line x1="290.52" y1="459.60" x2="298.32" y2="459.60" stroke="#000" stroke-width="1.9" stroke-linecap="butt"/>
<text x="304.98" y="635.30" font-size="10.80" text-anchor="middle" font-family="NanumGothic, 'Liberation Sans', sans-serif" fill="#111" stroke="#111" stroke-width="0.2">1</text>
<rect x="299.45" y="504.20" width="10.05" height="116.60" rx="0" fill="#d2d2d2" stroke="#000" stroke-width="1.1" />
<line x1="304.48" y1="474.80" x2="304.48" y2="504.20" stroke="#000" stroke-width="1.7" stroke-linecap="butt"/>
<line x1="300.58" y1="474.80" x2="308.38" y2="474.80" stroke="#000" stroke-width="1.9" stroke-linecap="butt"/>
<text x="311.77" y="635.30" font-size="10.80" textLength="6.32" lengthAdjust="spacingAndGlyphs" fill="#111" stroke="#111" stroke-width="0.2">5</text>
<rect x="309.50" y="535.40" width="10.05" height="85.40" rx="0" fill="#000" stroke="#000" stroke-width="1.1" />
<line x1="314.52" y1="525.40" x2="314.52" y2="535.40" stroke="#000" stroke-width="1.7" stroke-linecap="butt"/>
<line x1="310.62" y1="525.40" x2="318.42" y2="525.40" stroke="#000" stroke-width="1.9" stroke-linecap="butt"/>
<text x="321.82" y="635.30" font-size="10.80" textLength="6.39" lengthAdjust="spacingAndGlyphs" fill="#111" stroke="#111" stroke-width="0.2">3</text>
<rect x="319.55" y="531.50" width="10.05" height="89.30" rx="0" fill="#d2d2d2" stroke="#000" stroke-width="1.1" />
<line x1="324.58" y1="519.20" x2="324.58" y2="531.50" stroke="#000" stroke-width="1.7" stroke-linecap="butt"/>
<line x1="320.68" y1="519.20" x2="328.48" y2="519.20" stroke="#000" stroke-width="1.9" stroke-linecap="butt"/>
<text x="341.74" y="635.30" font-size="10.80" textLength="6.39" lengthAdjust="spacingAndGlyphs" fill="#111" stroke="#111" stroke-width="0.2">8</text>
<rect x="339.50" y="538.80" width="10.11" height="82.00" rx="0" fill="#d2d2d2" stroke="#000" stroke-width="1.1" />
<line x1="344.56" y1="531.40" x2="344.56" y2="538.80" stroke="#000" stroke-width="1.7" stroke-linecap="butt"/>
<line x1="340.66" y1="531.40" x2="348.46" y2="531.40" stroke="#000" stroke-width="1.9" stroke-linecap="butt"/>
<text x="351.85" y="635.30" font-size="10.80" textLength="6.46" lengthAdjust="spacingAndGlyphs" fill="#111" stroke="#111" stroke-width="0.2">9</text>
<rect x="349.61" y="553.50" width="10.11" height="67.30" rx="0" fill="#d2d2d2" stroke="#000" stroke-width="1.1" />
<line x1="354.67" y1="547.50" x2="354.67" y2="553.50" stroke="#000" stroke-width="1.7" stroke-linecap="butt"/>
<line x1="350.77" y1="547.50" x2="358.57" y2="547.50" stroke="#000" stroke-width="1.9" stroke-linecap="butt"/>
<text x="362.21" y="635.30" font-size="10.80" textLength="6.01" lengthAdjust="spacingAndGlyphs" fill="#111" stroke="#111" stroke-width="0.2">4</text>
<rect x="359.73" y="541.50" width="10.11" height="79.30" rx="0" fill="#d2d2d2" stroke="#000" stroke-width="1.1" />
<line x1="364.78" y1="534.00" x2="364.78" y2="541.50" stroke="#000" stroke-width="1.7" stroke-linecap="butt"/>
<line x1="360.88" y1="534.00" x2="368.68" y2="534.00" stroke="#000" stroke-width="1.9" stroke-linecap="butt"/>
<text x="372.01" y="635.30" font-size="10.80" textLength="6.53" lengthAdjust="spacingAndGlyphs" fill="#111" stroke="#111" stroke-width="0.2">6</text>
<rect x="369.84" y="541.50" width="10.11" height="79.30" rx="0" fill="#d2d2d2" stroke="#000" stroke-width="1.1" />
<line x1="374.89" y1="531.90" x2="374.89" y2="541.50" stroke="#000" stroke-width="1.7" stroke-linecap="butt"/>
<line x1="370.99" y1="531.90" x2="378.79" y2="531.90" stroke="#000" stroke-width="1.9" stroke-linecap="butt"/>
<text x="382.11" y="635.30" font-size="10.80" textLength="6.60" lengthAdjust="spacingAndGlyphs" fill="#111" stroke="#111" stroke-width="0.2">7</text>
<rect x="379.95" y="550.60" width="10.11" height="70.20" rx="0" fill="#d2d2d2" stroke="#000" stroke-width="1.1" />
<line x1="385.01" y1="539.70" x2="385.01" y2="550.60" stroke="#000" stroke-width="1.7" stroke-linecap="butt"/>
<line x1="381.11" y1="539.70" x2="388.91" y2="539.70" stroke="#000" stroke-width="1.9" stroke-linecap="butt"/>
<text x="395.62" y="635.30" font-size="10.80" text-anchor="middle" font-family="NanumGothic, 'Liberation Sans', sans-serif" fill="#111" stroke="#111" stroke-width="0.2">1</text>
<rect x="390.06" y="514.60" width="10.11" height="106.20" rx="0" fill="#d2d2d2" stroke="#000" stroke-width="1.1" />
<line x1="395.12" y1="495.90" x2="395.12" y2="514.60" stroke="#000" stroke-width="1.7" stroke-linecap="butt"/>
<line x1="391.22" y1="495.90" x2="399.02" y2="495.90" stroke="#000" stroke-width="1.9" stroke-linecap="butt"/>
<text x="402.48" y="635.30" font-size="10.80" textLength="6.32" lengthAdjust="spacingAndGlyphs" fill="#111" stroke="#111" stroke-width="0.2">5</text>
<rect x="400.17" y="586.30" width="10.11" height="34.50" rx="0" fill="#000" stroke="#000" stroke-width="1.1" />
<line x1="405.23" y1="583.20" x2="405.23" y2="586.30" stroke="#000" stroke-width="1.7" stroke-linecap="butt"/>
<line x1="401.33" y1="583.20" x2="409.13" y2="583.20" stroke="#000" stroke-width="1.9" stroke-linecap="butt"/>
<text x="412.58" y="635.30" font-size="10.80" textLength="6.39" lengthAdjust="spacingAndGlyphs" fill="#111" stroke="#111" stroke-width="0.2">3</text>
<rect x="410.29" y="545.40" width="10.11" height="75.40" rx="0" fill="#d2d2d2" stroke="#000" stroke-width="1.1" />
<line x1="415.34" y1="534.00" x2="415.34" y2="545.40" stroke="#000" stroke-width="1.7" stroke-linecap="butt"/>
<line x1="411.44" y1="534.00" x2="419.24" y2="534.00" stroke="#000" stroke-width="1.9" stroke-linecap="butt"/>
<text x="434.53" y="635.30" font-size="10.80" textLength="6.39" lengthAdjust="spacingAndGlyphs" fill="#111" stroke="#111" stroke-width="0.2">8</text>
<rect x="432.30" y="450.60" width="10.10" height="170.20" rx="0" fill="#d2d2d2" stroke="#000" stroke-width="1.1" />
<line x1="437.35" y1="420.10" x2="437.35" y2="450.60" stroke="#000" stroke-width="1.7" stroke-linecap="butt"/>
<line x1="433.45" y1="420.10" x2="441.25" y2="420.10" stroke="#000" stroke-width="1.9" stroke-linecap="butt"/>
<text x="444.63" y="635.30" font-size="10.80" textLength="6.46" lengthAdjust="spacingAndGlyphs" fill="#111" stroke="#111" stroke-width="0.2">9</text>
<rect x="442.40" y="554.40" width="10.10" height="66.40" rx="0" fill="#d2d2d2" stroke="#000" stroke-width="1.1" />
<line x1="447.45" y1="542.30" x2="447.45" y2="554.40" stroke="#000" stroke-width="1.7" stroke-linecap="butt"/>
<line x1="443.55" y1="542.30" x2="451.35" y2="542.30" stroke="#000" stroke-width="1.9" stroke-linecap="butt"/>
<text x="454.98" y="635.30" font-size="10.80" textLength="6.01" lengthAdjust="spacingAndGlyphs" fill="#111" stroke="#111" stroke-width="0.2">4</text>
<rect x="452.50" y="550.60" width="10.10" height="70.20" rx="0" fill="#d2d2d2" stroke="#000" stroke-width="1.1" />
<line x1="457.55" y1="542.20" x2="457.55" y2="550.60" stroke="#000" stroke-width="1.7" stroke-linecap="butt"/>
<line x1="453.65" y1="542.20" x2="461.45" y2="542.20" stroke="#000" stroke-width="1.9" stroke-linecap="butt"/>
<text x="464.76" y="635.30" font-size="10.80" textLength="6.53" lengthAdjust="spacingAndGlyphs" fill="#111" stroke="#111" stroke-width="0.2">6</text>
<rect x="462.60" y="550.60" width="10.10" height="70.20" rx="0" fill="#d2d2d2" stroke="#000" stroke-width="1.1" />
<line x1="467.65" y1="542.80" x2="467.65" y2="550.60" stroke="#000" stroke-width="1.7" stroke-linecap="butt"/>
<line x1="463.75" y1="542.80" x2="471.55" y2="542.80" stroke="#000" stroke-width="1.9" stroke-linecap="butt"/>
<text x="474.86" y="635.30" font-size="10.80" textLength="6.60" lengthAdjust="spacingAndGlyphs" fill="#111" stroke="#111" stroke-width="0.2">7</text>
<rect x="472.70" y="545.80" width="10.10" height="75.00" rx="0" fill="#d2d2d2" stroke="#000" stroke-width="1.1" />
<line x1="477.75" y1="534.50" x2="477.75" y2="545.80" stroke="#000" stroke-width="1.7" stroke-linecap="butt"/>
<line x1="473.85" y1="534.50" x2="481.65" y2="534.50" stroke="#000" stroke-width="1.9" stroke-linecap="butt"/>
<text x="488.35" y="635.30" font-size="10.80" text-anchor="middle" font-family="NanumGothic, 'Liberation Sans', sans-serif" fill="#111" stroke="#111" stroke-width="0.2">1</text>
<rect x="482.80" y="498.10" width="10.10" height="122.70" rx="0" fill="#d2d2d2" stroke="#000" stroke-width="1.1" />
<line x1="487.85" y1="468.10" x2="487.85" y2="498.10" stroke="#000" stroke-width="1.7" stroke-linecap="butt"/>
<line x1="483.95" y1="468.10" x2="491.75" y2="468.10" stroke="#000" stroke-width="1.9" stroke-linecap="butt"/>
<text x="495.20" y="635.30" font-size="10.80" textLength="6.32" lengthAdjust="spacingAndGlyphs" fill="#111" stroke="#111" stroke-width="0.2">5</text>
<text x="505.29" y="635.30" font-size="10.80" textLength="6.39" lengthAdjust="spacingAndGlyphs" fill="#111" stroke="#111" stroke-width="0.2">3</text>
<rect x="503.00" y="550.10" width="10.10" height="70.70" rx="0" fill="#d2d2d2" stroke="#000" stroke-width="1.1" />
<line x1="508.05" y1="540.20" x2="508.05" y2="550.10" stroke="#000" stroke-width="1.7" stroke-linecap="butt"/>
<line x1="504.15" y1="540.20" x2="511.95" y2="540.20" stroke="#000" stroke-width="1.9" stroke-linecap="butt"/>
<line x1="64.00" y1="424.30" x2="64.00" y2="624.60" stroke="#000" stroke-width="2.2" stroke-linecap="butt"/>
<line x1="60.50" y1="424.80" x2="64.00" y2="424.80" stroke="#000" stroke-width="2" stroke-linecap="butt"/>
<line x1="60.50" y1="462.80" x2="64.00" y2="462.80" stroke="#000" stroke-width="2" stroke-linecap="butt"/>
<line x1="60.50" y1="502.30" x2="64.00" y2="502.30" stroke="#000" stroke-width="2" stroke-linecap="butt"/>
<line x1="60.50" y1="541.50" x2="64.00" y2="541.50" stroke="#000" stroke-width="2" stroke-linecap="butt"/>
<line x1="60.50" y1="581.00" x2="64.00" y2="581.00" stroke="#000" stroke-width="2" stroke-linecap="butt"/>
<line x1="60.50" y1="620.90" x2="64.00" y2="620.90" stroke="#000" stroke-width="2" stroke-linecap="butt"/>
<line x1="64.00" y1="541.50" x2="518.00" y2="541.50" stroke="#000" stroke-width="2" stroke-linecap="butt"/>
<line x1="64.00" y1="621.10" x2="516.00" y2="621.10" stroke="#000" stroke-width="2" stroke-linecap="butt"/>
<text x="36.97" y="427.80" font-size="10.30" textLength="17.69" lengthAdjust="spacingAndGlyphs" fill="#111" stroke="#111" stroke-width="0.2">250</text>
<text x="36.97" y="466.60" font-size="10.30" textLength="17.69" lengthAdjust="spacingAndGlyphs" fill="#111" stroke="#111" stroke-width="0.2">200</text>
<text x="37.74" y="506.90" font-size="10.30" textLength="16.90" lengthAdjust="spacingAndGlyphs" fill="#111" stroke="#111" stroke-width="0.2"><tspan font-family="NanumGothic, 'Liberation Sans', sans-serif">1</tspan>50</text>
<text x="37.75" y="545.90" font-size="10.30" textLength="16.58" lengthAdjust="spacingAndGlyphs" fill="#111" stroke="#111" stroke-width="0.2"><tspan font-family="NanumGothic, 'Liberation Sans', sans-serif">1</tspan>00</text>
<text x="41.95" y="585.90" font-size="10.30" textLength="12.42" lengthAdjust="spacingAndGlyphs" fill="#111" stroke="#111" stroke-width="0.2">50</text>
<text x="48.20" y="625.00" font-size="10.50" textLength="5.50" lengthAdjust="spacingAndGlyphs" fill="#111" stroke="#111" stroke-width="0.2">0</text>
<text x="3.38" y="633.60" font-size="13.00" textLength="35.53" lengthAdjust="spacingAndGlyphs" fill="#111" stroke="#111" stroke-width="0.2">gimap</text>
<text x="86.10" y="427.70" font-size="10.80" textLength="41.39" lengthAdjust="spacingAndGlyphs" fill="#111" stroke="#111" stroke-width="0.2">wild type</text>
<text x="97.72" y="440.60" font-size="10.80" textLength="17.66" lengthAdjust="spacingAndGlyphs" fill="#111" stroke="#111" stroke-width="0.2">C57</text>
<text x="177.30" y="427.70" font-size="10.80" textLength="41.99" lengthAdjust="spacingAndGlyphs" fill="#111" stroke="#111" stroke-width="0.2">wild type</text>
<text x="191.93" y="441.00" font-size="10.80" textLength="17.17" lengthAdjust="spacingAndGlyphs" fill="#111" stroke="#111" stroke-width="0.2"><tspan font-family="NanumGothic, 'Liberation Sans', sans-serif">1</tspan>29</text>
<text x="269.10" y="427.70" font-size="10.80" textLength="41.28" lengthAdjust="spacingAndGlyphs" fill="#111" stroke="#111" stroke-width="0.2">wild type</text>
<text x="275.96" y="441.50" font-size="10.80" textLength="29.65" lengthAdjust="spacingAndGlyphs" fill="#111" stroke="#111" stroke-width="0.2">F<tspan font-family="NanumGothic, 'Liberation Sans', sans-serif">1</tspan>xF<tspan font-family="NanumGothic, 'Liberation Sans', sans-serif">1</tspan></text>
<text x="354.87" y="429.20" font-size="10.80" textLength="48.42" lengthAdjust="spacingAndGlyphs" fill="#111" stroke="#111" stroke-width="0.2">gimap5+/-</text>
<text x="448.66" y="428.30" font-size="10.80" textLength="46.01" lengthAdjust="spacingAndGlyphs" fill="#111" stroke="#111" stroke-width="0.2">gimap5-/-</text>
<text x="0.64" y="682.00" font-size="25.80" textLength="17.38" lengthAdjust="spacingAndGlyphs" font-weight="bold" fill="#000">D</text>
<line x1="128.10" y1="666.00" x2="128.10" y2="806.00" stroke="#000" stroke-width="1.7" stroke-linecap="butt"/>
<line x1="155.90" y1="666.00" x2="155.90" y2="806.00" stroke="#000" stroke-width="1.7" stroke-linecap="butt"/>
<line x1="183.70" y1="666.00" x2="183.70" y2="806.00" stroke="#000" stroke-width="1.7" stroke-linecap="butt"/>
<line x1="211.50" y1="666.00" x2="211.50" y2="806.00" stroke="#000" stroke-width="1.7" stroke-linecap="butt"/>
<line x1="239.30" y1="666.00" x2="239.30" y2="806.00" stroke="#000" stroke-width="1.7" stroke-linecap="butt"/>
<line x1="267.10" y1="666.00" x2="267.10" y2="806.00" stroke="#000" stroke-width="1.7" stroke-linecap="butt"/>
<line x1="294.90" y1="666.00" x2="294.90" y2="806.00" stroke="#000" stroke-width="1.7" stroke-linecap="butt"/>
<line x1="322.70" y1="666.00" x2="322.70" y2="806.00" stroke="#000" stroke-width="1.7" stroke-linecap="butt"/>
<line x1="350.50" y1="666.00" x2="350.50" y2="806.00" stroke="#000" stroke-width="1.7" stroke-linecap="butt"/>
<line x1="378.30" y1="666.00" x2="378.30" y2="806.00" stroke="#000" stroke-width="1.7" stroke-linecap="butt"/>
<line x1="99.90" y1="665.70" x2="99.90" y2="807.00" stroke="#000" stroke-width="2.1" stroke-linecap="butt"/>
<line x1="99.00" y1="806.00" x2="379.00" y2="806.00" stroke="#000" stroke-width="2.1" stroke-linecap="butt"/>
<line x1="97.60" y1="806.00" x2="100.00" y2="806.00" stroke="#000" stroke-width="1.6" stroke-linecap="butt"/>
<line x1="97.60" y1="771.25" x2="100.00" y2="771.25" stroke="#000" stroke-width="1.6" stroke-linecap="butt"/>
<line x1="97.60" y1="736.50" x2="100.00" y2="736.50" stroke="#000" stroke-width="1.6" stroke-linecap="butt"/>
<line x1="97.60" y1="701.75" x2="100.00" y2="701.75" stroke="#000" stroke-width="1.6" stroke-linecap="butt"/>
<line x1="97.60" y1="667.00" x2="100.00" y2="667.00" stroke="#000" stroke-width="1.6" stroke-linecap="butt"/>
<text x="76.07" y="671.00" font-size="11.00" textLength="18.52" lengthAdjust="spacingAndGlyphs" fill="#111" stroke="#111" stroke-width="0.2"><tspan font-family="NanumGothic, 'Liberation Sans', sans-serif">1</tspan>00</text>
<text x="80.06" y="705.70" font-size="11.00" textLength="12.10" lengthAdjust="spacingAndGlyphs" fill="#111" stroke="#111" stroke-width="0.2">75</text>
<text x="79.75" y="741.40" font-size="11.00" textLength="12.53" lengthAdjust="spacingAndGlyphs" fill="#111" stroke="#111" stroke-width="0.2">50</text>
<text x="79.63" y="775.90" font-size="11.00" textLength="12.65" lengthAdjust="spacingAndGlyphs" fill="#111" stroke="#111" stroke-width="0.2">25</text>
<text x="83.71" y="810.60" font-size="11.00" textLength="6.79" lengthAdjust="spacingAndGlyphs" fill="#111" stroke="#111" stroke-width="0.2">0</text>
<text x="97.90" y="821.10" font-size="11.00" textLength="6.21" lengthAdjust="spacingAndGlyphs" fill="#111" stroke="#111" stroke-width="0.2">0</text>
<text x="126.50" y="821.10" font-size="11.00" textLength="6.21" lengthAdjust="spacingAndGlyphs" fill="#111" stroke="#111" stroke-width="0.2">5</text>
<text x="150.67" y="821.10" font-size="11.00" textLength="13.08" lengthAdjust="spacingAndGlyphs" fill="#111" stroke="#111" stroke-width="0.2"><tspan font-family="NanumGothic, 'Liberation Sans', sans-serif">1</tspan>0</text>
<text x="178.47" y="821.10" font-size="11.00" textLength="13.08" lengthAdjust="spacingAndGlyphs" fill="#111" stroke="#111" stroke-width="0.2"><tspan font-family="NanumGothic, 'Liberation Sans', sans-serif">1</tspan>5</text>
<text x="206.58" y="821.10" font-size="11.00" textLength="12.76" lengthAdjust="spacingAndGlyphs" fill="#111" stroke="#111" stroke-width="0.2">20</text>
<text x="234.38" y="821.10" font-size="11.00" textLength="12.76" lengthAdjust="spacingAndGlyphs" fill="#111" stroke="#111" stroke-width="0.2">25</text>
<text x="262.30" y="821.10" font-size="11.00" textLength="12.64" lengthAdjust="spacingAndGlyphs" fill="#111" stroke="#111" stroke-width="0.2">30</text>
<text x="290.10" y="821.10" font-size="11.00" textLength="12.64" lengthAdjust="spacingAndGlyphs" fill="#111" stroke="#111" stroke-width="0.2">35</text>
<text x="318.07" y="821.10" font-size="11.00" textLength="12.45" lengthAdjust="spacingAndGlyphs" fill="#111" stroke="#111" stroke-width="0.2">40</text>
<text x="345.87" y="821.10" font-size="11.00" textLength="12.45" lengthAdjust="spacingAndGlyphs" fill="#111" stroke="#111" stroke-width="0.2">45</text>
<text x="373.50" y="821.10" font-size="11.00" textLength="12.64" lengthAdjust="spacingAndGlyphs" fill="#111" stroke="#111" stroke-width="0.2">50</text>
<text transform="translate(71.00,762.20) rotate(-90)" x="0" y="0" font-size="11.45" textLength="51.76" lengthAdjust="spacingAndGlyphs" fill="#111" stroke="#111" stroke-width="0.2">% survival</text>
<text x="206.69" y="837.50" font-size="11.20" textLength="61.61" lengthAdjust="spacingAndGlyphs" fill="#111" stroke="#111" stroke-width="0.2">age (weeks)</text>
<polyline points="100.30,667.00 105.86,667.00 111.42,667.00 116.98,667.00 122.54,667.00 128.10,670.48 133.66,670.48 139.22,674.64 144.78,674.64 150.34,674.64 155.90,678.54 161.46,678.54 167.02,694.24 172.58,713.84 178.14,726.35 183.70,737.75 189.26,741.92 194.82,754.29 200.38,758.32 205.94,766.38 211.50,766.38 217.06,774.31 222.62,774.31 228.18,774.31 233.74,774.31 239.30,782.23 244.86,782.23 250.42,786.12 255.98,790.01 261.54,794.32 267.10,794.32 272.66,794.32 278.22,794.32 283.78,798.63 289.34,801.55 294.90,801.55 300.46,801.55 306.02,801.55 311.58,801.55 317.14,801.55 322.70,801.55 328.26,801.55 333.82,806.00 339.38,806.00 344.94,806.00 350.50,806.00 356.06,806.00 361.62,806.00 367.18,806.00 372.74,806.00 378.30,806.00" stroke="#000" stroke-width="1.6" fill="none" stroke-linejoin="round"/>
<circle cx="105.86" cy="667.00" r="2.2" fill="#000"/>
<circle cx="111.42" cy="667.00" r="2.2" fill="#000"/>
<circle cx="116.98" cy="667.00" r="2.2" fill="#000"/>
<circle cx="122.54" cy="667.00" r="2.2" fill="#000"/>
<circle cx="128.10" cy="670.48" r="2.2" fill="#000"/>
<circle cx="133.66" cy="670.48" r="2.2" fill="#000"/>
<circle cx="139.22" cy="674.64" r="2.2" fill="#000"/>
<circle cx="144.78" cy="674.64" r="2.2" fill="#000"/>
<circle cx="150.34" cy="674.64" r="2.2" fill="#000"/>
<circle cx="155.90" cy="678.54" r="2.2" fill="#000"/>
<circle cx="161.46" cy="678.54" r="2.2" fill="#000"/>
<circle cx="167.02" cy="694.24" r="2.2" fill="#000"/>
<circle cx="172.58" cy="713.84" r="2.2" fill="#000"/>
<circle cx="178.14" cy="726.35" r="2.2" fill="#000"/>
<circle cx="183.70" cy="737.75" r="2.2" fill="#000"/>
<circle cx="189.26" cy="741.92" r="2.2" fill="#000"/>
<circle cx="194.82" cy="754.29" r="2.2" fill="#000"/>
<circle cx="200.38" cy="758.32" r="2.2" fill="#000"/>
<circle cx="205.94" cy="766.38" r="2.2" fill="#000"/>
<circle cx="211.50" cy="766.38" r="2.2" fill="#000"/>
<circle cx="217.06" cy="774.31" r="2.2" fill="#000"/>
<circle cx="222.62" cy="774.31" r="2.2" fill="#000"/>
<circle cx="228.18" cy="774.31" r="2.2" fill="#000"/>
<circle cx="233.74" cy="774.31" r="2.2" fill="#000"/>
<circle cx="239.30" cy="782.23" r="2.2" fill="#000"/>
<circle cx="244.86" cy="782.23" r="2.2" fill="#000"/>
<circle cx="250.42" cy="786.12" r="2.2" fill="#000"/>
<circle cx="255.98" cy="790.01" r="2.2" fill="#000"/>
<circle cx="261.54" cy="794.32" r="2.2" fill="#000"/>
<circle cx="267.10" cy="794.32" r="2.2" fill="#000"/>
<circle cx="272.66" cy="794.32" r="2.2" fill="#000"/>
<circle cx="278.22" cy="794.32" r="2.2" fill="#000"/>
<circle cx="283.78" cy="798.63" r="2.2" fill="#000"/>
<circle cx="289.34" cy="801.55" r="2.2" fill="#000"/>
<circle cx="294.90" cy="801.55" r="2.2" fill="#000"/>
<circle cx="300.46" cy="801.55" r="2.2" fill="#000"/>
<circle cx="306.02" cy="801.55" r="2.2" fill="#000"/>
<circle cx="311.58" cy="801.55" r="2.2" fill="#000"/>
<circle cx="317.14" cy="801.55" r="2.2" fill="#000"/>
<circle cx="322.70" cy="801.55" r="2.2" fill="#000"/>
<circle cx="328.26" cy="801.55" r="2.2" fill="#000"/>
<circle cx="333.82" cy="806.00" r="2.2" fill="#000"/>
<circle cx="339.38" cy="806.00" r="2.2" fill="#000"/>
<circle cx="344.94" cy="806.00" r="2.2" fill="#000"/>
<circle cx="350.50" cy="806.00" r="2.2" fill="#000"/>
<circle cx="356.06" cy="806.00" r="2.2" fill="#000"/>
<circle cx="361.62" cy="806.00" r="2.2" fill="#000"/>
<circle cx="367.18" cy="806.00" r="2.2" fill="#000"/>
<circle cx="372.74" cy="806.00" r="2.2" fill="#000"/>
<circle cx="378.30" cy="806.00" r="2.2" fill="#000"/>
<circle cx="100.3" cy="806.2" r="1.9" fill="#000"/>
</g>
</svg>
</body></html>
